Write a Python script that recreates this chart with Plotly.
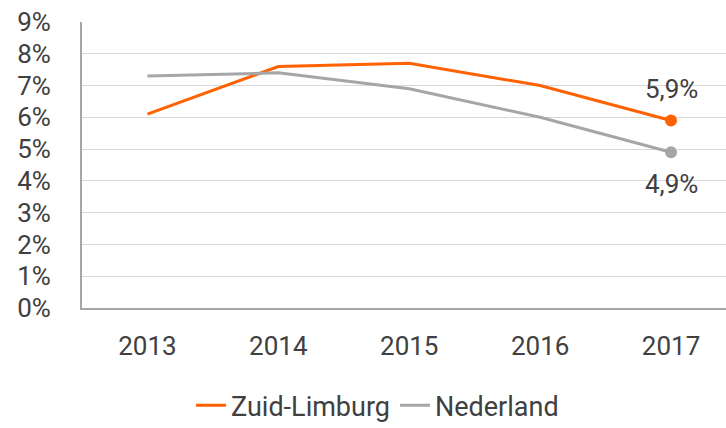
import plotly.graph_objects as go

years = ["2013", "2014", "2015", "2016", "2017"]
zuid_limburg = [6.1, 7.6, 7.7, 7.0, 5.9]
nederland = [7.3, 7.4, 6.9, 6.0, 4.9]
y_ticks = [0, 1, 2, 3, 4, 5, 6, 7, 8, 9]

ORANGE = "#ff6200"
GREY = "#a6a6a6"
TXT = "#404040"
FONT = "Roboto"
FS = 26

fig = go.Figure()
idx = list(range(len(years)))
fig.add_trace(go.Scatter(x=idx, y=zuid_limburg, name="Zuid-Limburg", mode="lines",
                         line=dict(color=ORANGE, width=3)))
fig.add_trace(go.Scatter(x=idx, y=nederland, name="Nederland", mode="lines",
                         line=dict(color=GREY, width=3)))
fig.add_trace(go.Scatter(x=[idx[-1]], y=[zuid_limburg[-1]], mode="markers", showlegend=False,
                         marker=dict(color=ORANGE, size=12)))
fig.add_trace(go.Scatter(x=[idx[-1]], y=[nederland[-1]], mode="markers", showlegend=False,
                         marker=dict(color=GREY, size=12)))

def fmt(v):
    return f"{v:.1f}".replace(".", ",") + "%"

fig.add_annotation(x=idx[-1], y=zuid_limburg[-1], text=fmt(zuid_limburg[-1]), showarrow=False,
                   yshift=32, font=dict(family=FONT, size=FS, color=TXT))
fig.add_annotation(x=idx[-1], y=nederland[-1], text=fmt(nederland[-1]), showarrow=False,
                   yshift=-32, font=dict(family=FONT, size=FS, color=TXT))

fig.update_layout(
    width=726, height=428,
    margin=dict(l=82, r=0, t=22, b=120, autoexpand=False),
    paper_bgcolor="white", plot_bgcolor="white",
    font=dict(family=FONT, size=FS, color=TXT),
    showlegend=True,
    legend=dict(orientation="h", xref="container", yref="container",
                x=0.52, xanchor="center", y=0.052, yanchor="middle",
                font=dict(family=FONT, size=27, color=TXT),
                itemwidth=30, tracegroupgap=0),
)
fig.update_xaxes(
    tickmode="array", tickvals=idx, ticktext=years,
    range=[-0.5, 4.42], showgrid=False, zeroline=False,
    showline=True, linecolor=GREY, linewidth=2,
    ticks="", ticklabelstandoff=14, automargin=False,
    tickfont=dict(family=FONT, size=FS, color=TXT),
)
fig.update_yaxes(
    range=[0, 9], tickmode="array", tickvals=y_ticks,
    ticktext=[f"{t}%" for t in y_ticks],
    showgrid=True, gridcolor="#d9d9d9", gridwidth=1, zeroline=False,
    showline=True, linecolor=GREY, linewidth=2,
    ticks="", ticklabelstandoff=24, automargin=False,
    tickfont=dict(family=FONT, size=FS, color=TXT),
)

fig.write_html("out.html", config={"displayModeBar": False},
               post_script="document.body.style.margin='0';document.body.style.overflow='hidden';")
